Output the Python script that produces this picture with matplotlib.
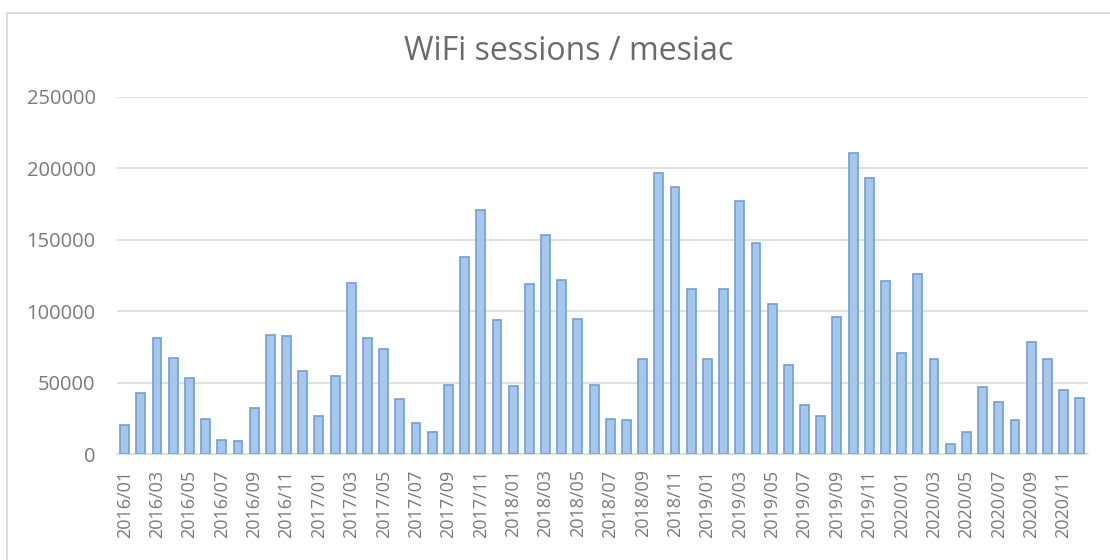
import matplotlib.pyplot as plt
import numpy as np
from matplotlib.patches import Rectangle

# ============================== Data

YEARS = [2016, 2017, 2018, 2019, 2020]
MONTHS = [f"{y}/{m:02d}" for y in YEARS for m in range(1, 13)]

SESSIONS_2016 = [20300, 43100, 81600, 67600, 53600, 24900, 10000, 9100, 32600, 83500, 82600, 58100]
SESSIONS_2017 = [27000, 54600, 119700, 81600, 73500, 38900, 22100, 15600, 48700, 138100, 171000, 93800]
SESSIONS_2018 = [47600, 119400, 153300, 122000, 94900, 48700, 24700, 23800, 66500, 196700, 187100, 115500]
SESSIONS_2019 = [66500, 115500, 176800, 147700, 105200, 62700, 34700, 27000, 95900, 210900, 193000, 121300]
SESSIONS_2020 = [71100, 126200, 66500, 7000, 15600, 46900, 36600, 24000, 78800, 66500, 44800, 39200]

SESSIONS = SESSIONS_2016 + SESSIONS_2017 + SESSIONS_2018 + SESSIONS_2019 + SESSIONS_2020
Y_TICKS = [0, 50000, 100000, 150000, 200000, 250000]

TITLE = "WiFi sessions / mesiac"

# ============================== Style

FONT = ["Open Sans", "DejaVu Sans"]
TEXT_GRAY = "#7a7a7a"
BAR_FILL = "#a6c6ec"
BAR_EDGE = "#6f9fd8"
GRID = "#d9d9d9"

plt.rcParams["font.family"] = FONT

fig = plt.figure(figsize=(11.1, 5.6), dpi=100)
ax = fig.add_axes([0.105, 0.189, 0.875, 0.638])

x = np.arange(len(SESSIONS))
ax.bar(x, SESSIONS, width=0.55, color=BAR_FILL, edgecolor=BAR_EDGE, linewidth=1.2, zorder=3)

ax.set_xlim(-0.5, len(SESSIONS) - 0.5)
ax.set_ylim(0, 250000)
ax.set_yticks(Y_TICKS)
ax.set_yticklabels([str(v) for v in Y_TICKS], fontsize=14.5, color=TEXT_GRAY)
ax.yaxis.grid(True, color=GRID, linewidth=1.1, zorder=0)
ax.tick_params(axis="y", length=0, pad=15)

ax.set_xticks(x[::2])
ax.set_xticklabels(MONTHS[::2], rotation=90, fontsize=13, color=TEXT_GRAY)
ax.tick_params(axis="x", length=0, pad=11)

for side in ["top", "right", "left"]:
    ax.spines[side].set_visible(False)
ax.spines["bottom"].set_color(GRID)
ax.spines["bottom"].set_linewidth(1.1)

fig.text(0.512, 0.908, TITLE, ha="center", va="center", fontsize=23, color="#6b6b6b")

# light frame around the chart area
fig.patches.append(Rectangle((7 / 1110, -0.05), 1.1, 1 - 13 / 560 + 0.05,
                             transform=fig.transFigure, fill=False,
                             edgecolor="#d4d4d4", linewidth=1.2))

fig.savefig("out.png", dpi=100)
plt.close(fig)
